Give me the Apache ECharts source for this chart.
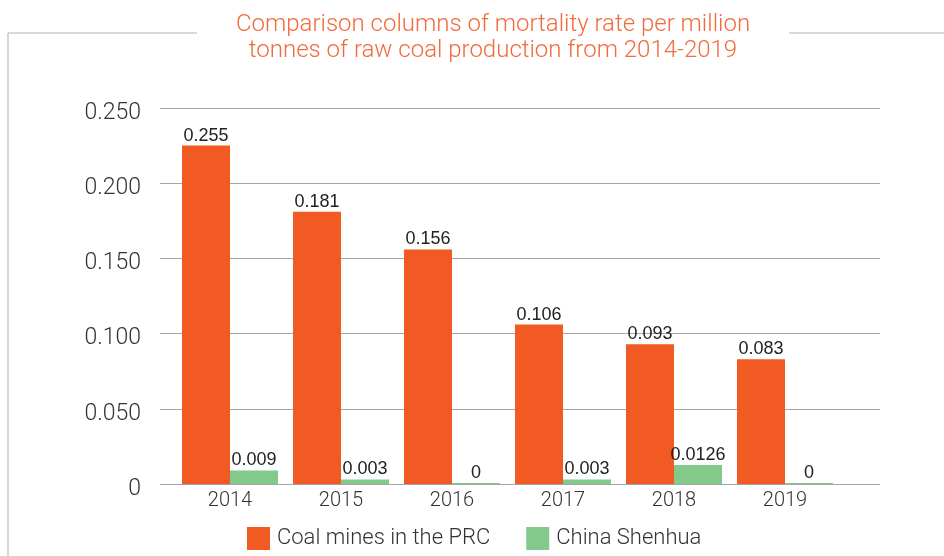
<!DOCTYPE html>
<html>
<head>
<meta charset="utf-8">
<script src="https://cdn.jsdelivr.net/npm/echarts@6/dist/echarts.min.js"></script>
<style>
  html, body { margin: 0; padding: 0; background: #fff; }
  #chart { width: 944px; height: 556px; }
</style>
</head>
<body>
<div id="chart"></div>
<script>
const years = ['2014', '2015', '2016', '2017', '2018', '2019']
// bar heights as drawn in the picture (the 2014 column is drawn shorter than its label)
const prcValues = [0.225, 0.181, 0.156, 0.106, 0.093, 0.083]
const prcLabels = ['0.255', '0.181', '0.156', '0.106', '0.093', '0.083']
const shenhuaValues = [0.009, 0.003, 0, 0.003, 0.0126, 0]
const shenhuaLabels = ['0.009', '0.003', '0', '0.003', '0.0126', '0']
const yTicks = ['0', '0.050', '0.100', '0.150', '0.200', '0.250']

const orange = '#f15a22'
const green = '#83c98b'
const gridGray = '#a6a6a6'
const light = 'Roboto'

const chart = echarts.init(document.getElementById('chart'))

const option = {
  animation: false,
  title: {
    text: 'Comparison columns of mortality rate per million\ntonnes of raw coal production from 2014-2019',
    left: 488,
    top: 7,
    textAlign: 'center',
    textStyle: {
      color: '#f26a3c',
      fontFamily: light,
      fontWeight: 300,
      fontSize: 24,
      lineHeight: 26
    }
  },
  graphic: [
    { type: 'line', shape: { x1: 8, y1: 33, x2: 197, y2: 33 }, style: { stroke: '#b5b5b5', lineWidth: 1 } },
    { type: 'line', shape: { x1: 789, y1: 33, x2: 944, y2: 33 }, style: { stroke: '#b5b5b5', lineWidth: 1 } },
    { type: 'line', shape: { x1: 8, y1: 33, x2: 8, y2: 556 }, style: { stroke: '#c8c8c8', lineWidth: 1.5 } }
  ],
  legend: {
    left: 247,
    top: 527,
    padding: 0,
    itemWidth: 23,
    itemHeight: 23,
    itemGap: 36,
    icon: 'rect',
    textStyle: { color: '#333', fontSize: 22, fontFamily: light, fontWeight: 300, padding: [0, 0, 0, 2] },
    data: ['Coal mines in the PRC', 'China Shenhua']
  },
  grid: [
    { left: 160, width: 720, top: 108, bottom: 72 },
    { left: 174.5, width: 666, top: 108, bottom: 72 }
  ],
  xAxis: [
    { gridIndex: 0, type: 'category', data: years, show: false },
    {
      gridIndex: 1,
      type: 'category',
      data: years,
      axisLine: { show: false },
      axisTick: { show: false },
      axisLabel: { color: '#333', fontSize: 20, fontFamily: light, fontWeight: 300, margin: 7 }
    }
  ],
  yAxis: [
    {
      gridIndex: 0,
      type: 'value',
      min: 0,
      max: 0.25,
      interval: 0.05,
      axisLine: { show: false },
      axisTick: { show: false },
      axisLabel: {
        color: '#333',
        fontSize: 23,
        fontFamily: light,
        fontWeight: 300,
        margin: 19,
        formatter: (v) => '{v|' + yTicks[Math.round(v / 0.05)] + '}',
        rich: {
          v: { fontSize: 23, fontFamily: light, fontWeight: 300, color: '#333', padding: [10, 0, 0, 0] }
        }
      },
      splitLine: { lineStyle: { color: gridGray, width: 1 } }
    },
    { gridIndex: 1, type: 'value', min: 0, max: 0.25, show: false }
  ],
  series: [
    {
      name: 'Coal mines in the PRC',
      type: 'bar',
      xAxisIndex: 1,
      yAxisIndex: 1,
      data: prcValues,
      barGap: '0%',
      barCategoryGap: '13.5%',
      itemStyle: { color: orange },
      label: {
        show: true,
        position: 'top',
        distance: 1,
        color: '#222',
        fontSize: 18,
        fontFamily: 'Liberation Sans',
        formatter: (p) => prcLabels[p.dataIndex]
      }
    },
    {
      name: 'China Shenhua',
      type: 'bar',
      xAxisIndex: 1,
      yAxisIndex: 1,
      data: shenhuaValues,
      barMinHeight: 1,
      itemStyle: { color: green },
      label: {
        show: true,
        position: 'top',
        distance: 1,
        color: '#222',
        fontSize: 18,
        fontFamily: 'Liberation Sans',
        formatter: (p) => shenhuaLabels[p.dataIndex]
      }
    }
  ]
}

chart.setOption(option)
</script>
</body>
</html>
